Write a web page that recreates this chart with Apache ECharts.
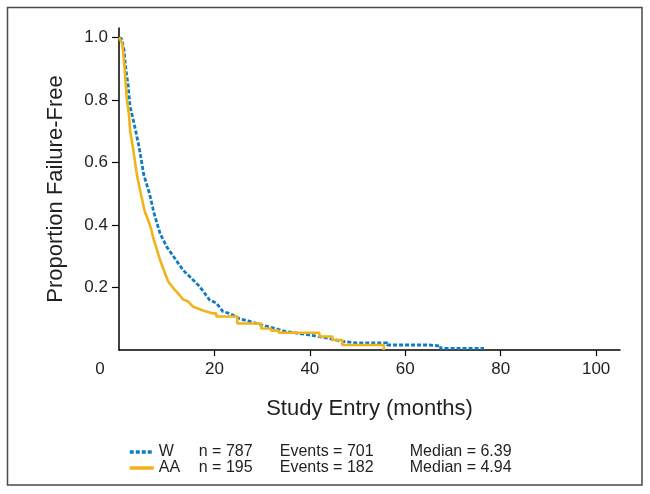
<!DOCTYPE html>
<html><head><meta charset="utf-8">
<script src="https://cdn.jsdelivr.net/npm/echarts@6/dist/echarts.min.js"></script>
<style>html,body{margin:0;padding:0;background:#fff}#c{width:650px;height:494px}</style>
</head><body><div id="c"></div>
<script>
// W (white) Kaplan-Meier curve: time (months) and proportion failure-free
const wTime = [0, 0.57, 1.05, 1.46, 1.95, 2.3, 3.0, 4.2, 5.2, 6.4, 7.3, 8.6, 10.0, 12.4, 13.4, 14.8, 16.9, 19.0, 20.4, 21.8, 23.2, 25.3, 27.0, 30.0, 35.0, 40.0, 44.0, 47.0, 49.7, 56.2, 56.2, 65.0, 65.0, 67.4, 67.4, 76.5];
const wSurv = [1.0, 0.995, 0.96, 0.896, 0.843, 0.78, 0.736, 0.65, 0.56, 0.50, 0.44, 0.373, 0.33, 0.278, 0.256, 0.235, 0.203, 0.16, 0.15, 0.123, 0.117, 0.10, 0.093, 0.08, 0.059, 0.048, 0.037, 0.027, 0.023, 0.023, 0.016, 0.016, 0.013, 0.013, 0.005, 0.005];
// AA (African American) curve
const aaTime = [0, 0.69, 1.1, 1.6, 2.1, 2.35, 3.0, 3.7, 4.4, 5.4, 6.1, 6.8, 7.1, 8.6, 10.3, 11.7, 12.7, 13.4, 14.5, 15.5, 17.3, 19.7, 20.4, 20.4, 24.8, 24.8, 29.8, 29.8, 31.9, 31.9, 33.5, 33.5, 42.0, 42.0, 44.7, 44.7, 46.8, 46.8, 55.5, 55.5];
const aaSurv = [1.0, 0.98, 0.917, 0.81, 0.75, 0.70, 0.64, 0.565, 0.512, 0.443, 0.416, 0.384, 0.363, 0.288, 0.219, 0.192, 0.176, 0.162, 0.155, 0.139, 0.128, 0.117, 0.117, 0.107, 0.107, 0.085, 0.085, 0.069, 0.069, 0.062, 0.062, 0.055, 0.055, 0.043, 0.043, 0.032, 0.032, 0.016, 0.016, 0.0];

const seriesNames = ['W', 'AA'];
const nValues = [787, 195];
const eventValues = [701, 182];
const medianValues = ['6.39', '4.94'];
const xTicks = [0, 20, 40, 60, 80, 100];
const yTicks = [0.2, 0.4, 0.6, 0.8, 1.0];

const FONT = '"Liberation Sans", Arial, sans-serif';
const TXT = '#231f20';
const BLUE = '#0f7cc2';
const GOLD = '#f2b31a';

const zip = (a, b) => a.map((v, i) => [v, b[i]]);

const chart = echarts.init(document.getElementById('c'), null, {renderer: 'canvas'});
chart.setOption({
  animation: false,
  backgroundColor: '#fff',
  textStyle: {fontFamily: FONT, color: TXT},
  grid: {left: 119, right: 30, top: 28, bottom: 144, containLabel: false},
  xAxis: {
    type: 'value', min: 0, max: 105, interval: 20,
    name: 'Study Entry (months)', nameLocation: 'middle', nameGap: 48,
    nameTextStyle: {fontSize: 22, color: TXT, fontFamily: FONT},
    axisLine: {lineStyle: {color: '#000', width: 1.5}},
    axisTick: {show: true, length: 6, lineStyle: {color: '#000', width: 1.2}, customValues: xTicks.filter(v => v > 0)},
    axisLabel: {
      customValues: xTicks, fontSize: 17, color: TXT, margin: 11, fontFamily: FONT,
      formatter: v => v === 0 ? '{z|0}' : String(v),
      rich: {z: {fontSize: 17, color: TXT, fontFamily: FONT, padding: [0, 38, 0, 0]}}
    },
    splitLine: {show: false}
  },
  yAxis: {
    type: 'value', min: 0, max: 1.03,
    name: 'Proportion Failure-Free', nameLocation: 'middle', nameGap: 52,
    nameTextStyle: {fontSize: 22, color: TXT, fontFamily: FONT},
    axisLine: {show: true, lineStyle: {color: '#000', width: 1.5}},
    axisTick: {show: true, length: 7, lineStyle: {color: '#000', width: 1.2}, customValues: yTicks},
    axisLabel: {customValues: yTicks, fontSize: 17, color: TXT, margin: 11, fontFamily: FONT, formatter: v => v.toFixed(1)},
    splitLine: {show: false}
  },
  legend: {
    orient: 'vertical', left: 123, top: 439, itemGap: 0,
    itemWidth: 24, itemHeight: 14,
    data: seriesNames,
    itemStyle: {opacity: 0},
    lineStyle: {width: 3.5},
    formatter: name => {
      const i = seriesNames.indexOf(name);
      return '{a|' + name + '}{b|n = ' + nValues[i] + '}{c|Events = ' + eventValues[i] + '}{d|Median = ' + medianValues[i] + '}';
    },
    textStyle: {
      fontFamily: FONT, fontSize: 16, color: TXT, lineHeight: 16,
      rich: {
        a: {width: 40, fontSize: 16, color: TXT, fontFamily: FONT, lineHeight: 16},
        b: {width: 81, fontSize: 16, color: TXT, fontFamily: FONT, lineHeight: 16},
        c: {width: 130, fontSize: 16, color: TXT, fontFamily: FONT, lineHeight: 16},
        d: {fontSize: 16, color: TXT, fontFamily: FONT, lineHeight: 16}
      }
    }
  },
  graphic: [{
    type: 'rect', shape: {x: 7.5, y: 7.5, width: 634.5, height: 477.5},
    style: {fill: null, stroke: '#4a4a4a', lineWidth: 1.5}, silent: true, z: -1
  }],
  series: [
    {
      name: 'W', type: 'line', symbol: 'none', data: zip(wTime, wSurv),
      lineStyle: {color: BLUE, width: 2.8, type: [4, 2]}, itemStyle: {color: BLUE}, z: 2
    },
    {
      name: 'AA', type: 'line', symbol: 'none', data: zip(aaTime, aaSurv),
      lineStyle: {color: GOLD, width: 2.6}, itemStyle: {color: GOLD}, z: 3
    }
  ]
});
</script>
</body></html>
